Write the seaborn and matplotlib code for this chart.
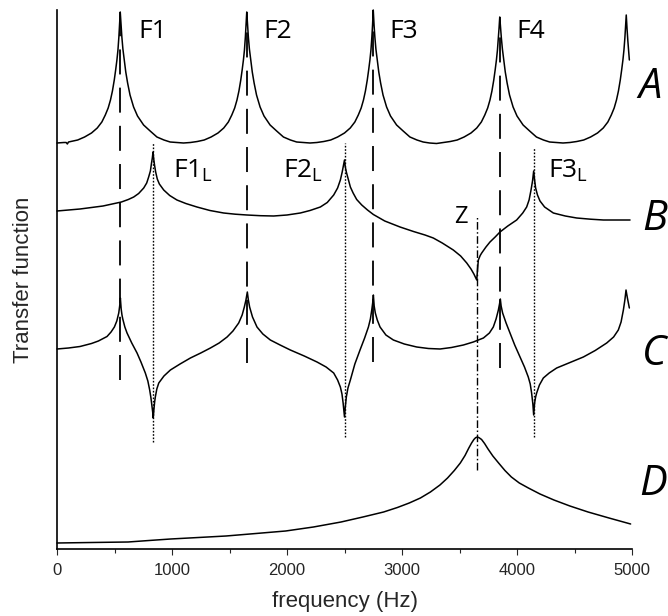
import numpy as np
import pandas as pd
import matplotlib
matplotlib.use("Agg")
import matplotlib.pyplot as plt
import seaborn as sns
from matplotlib.ticker import MultipleLocator

# --- Curves (frequency in Hz, amplitude in arbitrary stacked units) ---
freq_A = [0, 60, 80, 90, 100, 180, 240, 300, 350, 390, 420, 445, 465, 482, 498, 510, 521, 530, 538, 544,
          550, 557, 564, 573, 585, 598, 614, 635, 666, 700, 753, 810, 869, 930, 984, 1040, 1100,
          1160, 1220, 1280, 1340, 1400, 1450, 1490, 1520, 1545, 1565, 1582, 1598, 1610, 1621, 1630, 1638, 1644,
          1650, 1657, 1664, 1673, 1685, 1698, 1714, 1735, 1766, 1800, 1853, 1910, 1969, 2030, 2084, 2140, 2200,
          2260, 2320, 2380, 2440, 2500, 2550, 2590, 2620, 2645, 2665, 2682, 2698, 2710, 2721, 2730, 2738, 2744,
          2750, 2757, 2764, 2773, 2785, 2798, 2814, 2835, 2866, 2900, 2953, 3010, 3069, 3130, 3184, 3240, 3300,
          3360, 3420, 3480, 3540, 3600, 3650, 3690, 3720, 3745, 3765, 3782, 3798, 3810, 3821, 3830, 3838, 3844,
          3850, 3857, 3864, 3873, 3885, 3898, 3914, 3935, 3966, 4000, 4053, 4110, 4169, 4230, 4284, 4340, 4400,
          4460, 4520, 4580, 4640, 4700, 4750, 4790, 4820, 4845, 4865, 4882, 4898, 4910, 4921, 4930, 4938, 4944,
          4950, 4957, 4964, 4977]
amp_A = [406, 406.5, 406.5, 405, 407, 409, 412, 416, 421, 427, 434, 441, 449, 458, 469, 479, 489, 499, 512, 524,
         537, 524, 512, 500, 489, 477, 466, 454, 442, 433, 424, 418, 412, 409, 407, 406.5, 406,
         406.5, 407.5, 409, 412, 416, 421, 427, 434, 441, 449, 458, 469, 479, 489, 499, 512, 524,
         537, 524, 512, 500, 489, 477, 466, 454, 442, 433, 424, 418, 412, 409, 407, 406.5, 406,
         406.5, 407.5, 409, 412, 416, 421, 427, 434, 441, 449, 458, 469, 479, 489, 499, 512, 524,
         539, 524, 512, 500, 489, 477, 466, 454, 442, 433, 424, 418, 412, 409, 407, 406, 405.5,
         406.5, 407.5, 409, 412, 416, 421, 427, 434, 441, 449, 458, 469, 479, 489, 499, 511, 521,
         532, 521, 511, 500, 489, 477, 466, 454, 442, 433, 424, 418, 412, 409, 407, 406.5, 406,
         406.5, 407.5, 409, 412, 416, 421, 427, 434, 441, 449, 458, 469, 479, 489, 499, 511, 522,
         534, 520, 508, 489]

freq_B = [0, 100, 200, 300, 400, 500, 560, 620, 667, 710, 754, 780, 797, 812, 822, 829, 835, 841, 848, 858,
          872, 890, 928, 980, 1043, 1120, 1217, 1330, 1449, 1550, 1652, 1770, 1884, 2000, 2116, 2200, 2290,
          2350, 2406, 2440, 2464, 2480, 2490, 2500, 2507, 2516, 2530, 2551, 2575, 2606, 2650, 2700, 2751,
          2850, 2983, 3100, 3200, 3272, 3350, 3446, 3510, 3563, 3600, 3625, 3650, 3657, 3664, 3680, 3693,
          3730, 3765, 3810, 3852, 3920, 3997, 4050, 4084, 4105, 4122, 4135, 4145, 4153, 4162, 4178, 4200,
          4240, 4316, 4420, 4519, 4640, 4751, 4870, 4983]
amp_B = [338, 339, 340, 341.5, 343, 345.5, 347, 349.5, 352, 355.5, 361, 366, 372, 378, 386, 391, 397, 390, 384, 377,
         370, 365, 359, 353.5, 349, 345.5, 342, 338.5, 336, 334.8, 334, 333.3, 333, 334, 336, 338.5, 342,
         346.5, 354, 361, 369, 377, 383, 389, 382, 377, 371, 362, 356, 349.5, 344, 339, 334.5,
         328, 322, 317.5, 314, 311, 306, 299, 293, 286, 280, 275, 269, 280, 289, 293.5, 296,
         302, 307, 312, 317, 323, 329, 336, 342, 349, 359, 368, 378, 369, 361, 354, 348,
         342, 336, 333, 331, 329.8, 329, 329, 329]

freq_C = [0, 100, 200, 300, 360, 410, 435, 470, 499, 520, 537, 545, 551, 558, 565, 572, 590, 609, 650, 696,
          730, 768, 790, 806, 817, 826, 832, 837, 843, 849, 855, 868, 885, 930, 986, 1070, 1160, 1250, 1334,
          1410, 1479, 1530, 1580, 1610, 1629, 1643, 1655, 1664, 1675, 1700, 1739, 1790, 1855, 1940, 2029,
          2150, 2261, 2340, 2406, 2440, 2464, 2478, 2488, 2494, 2500, 2506, 2516, 2530, 2551, 2590, 2635,
          2675, 2708, 2725, 2737, 2745, 2751, 2758, 2768, 2785, 2809, 2860, 2925, 3020, 3128, 3230, 3331,
          3430, 3534, 3620, 3708, 3760, 3794, 3818, 3838, 3848, 3855, 3862, 3875, 3905, 3939, 3980, 4026,
          4065, 4098, 4115, 4127, 4138, 4145, 4153, 4162, 4171, 4195, 4229, 4280, 4345, 4460, 4577, 4680,
          4780, 4840, 4881, 4905, 4925, 4938, 4948, 4960, 4977]
amp_C = [200, 201, 202.5, 205.5, 208, 211, 212.5, 217, 222, 228, 236, 243, 251, 240, 234, 230, 222, 216, 206, 196,
         187, 176, 168, 159, 151, 143, 137, 131, 140, 147, 152, 160, 166, 173, 179, 185, 191, 196, 201,
         206, 212, 218, 226, 234, 242, 249, 257, 249, 242, 232, 222, 215, 209, 204, 199,
         193, 187, 182, 176, 169, 162, 155, 146, 139, 132, 141, 152, 161, 169, 185, 199,
         211, 222, 230, 239, 246, 254, 243, 236, 229, 222, 214, 209, 205, 202, 200.5, 200,
         201.5, 204, 207, 211, 216, 222, 230, 239, 245, 250, 243, 236, 226, 216, 204, 192,
         182, 172, 165, 156, 145, 134, 146, 152, 156, 164, 171, 176, 181, 186.5, 192, 198.5,
         206, 212, 219, 227, 239, 249, 259, 251, 241]

freq_D = [0, 300, 618, 800, 988, 1230, 1470, 1730, 1988, 2230, 2470, 2660, 2840, 2960, 3063, 3160, 3247,
          3330, 3396, 3455, 3507, 3548, 3581, 3605, 3625, 3640, 3655, 3670, 3692, 3718, 3748, 3790, 3840,
          3895, 3951, 4020, 4099, 4200, 4321, 4460, 4618, 4800, 4988]
amp_D = [6, 6.5, 7, 8.5, 10, 11.5, 13, 15.5, 18, 22, 27, 32, 37, 41.5, 46, 51, 57,
         64, 71, 78.5, 86, 93.5, 101, 106, 109.5, 111.3, 112, 111.3, 109.5, 105.5, 100, 93, 86,
         78.5, 72, 66, 61, 55, 49, 43, 37, 31, 25]

curve_names = ["A", "B", "C", "D"]

# marker lines: formants (dashed), lateral formants (dotted), zero (dash-dot)
formant_freq = [550, 1655, 2750, 3855]
formant_top = [537, 537, 539, 532]
formant_bottom = [169, 186, 187, 181]
formant_labels = ["F1", "F2", "F3", "F4"]

lateral_freq = [835, 2500, 4145]
lateral_top = [406, 406, 401]
lateral_bottom = [107, 112, 112]
lateral_labels = ["F1$_\\mathregular{L}$", "F2$_\\mathregular{L}$", "F3$_\\mathregular{L}$"]

zero_freq = [3650]
zero_top = [332]
zero_bottom = [79]
zero_labels = ["Z"]

# --- Build table ---
frames = []
for name, f, a in zip(curve_names, [freq_A, freq_B, freq_C, freq_D], [amp_A, amp_B, amp_C, amp_D]):
    frames.append(pd.DataFrame({"freq": f, "amp": a, "curve": name}))
df = pd.concat(frames, ignore_index=True)

# --- Plot ---
sns.set_style("ticks")
plt.rcParams["font.family"] = ["Liberation Sans", "DejaVu Sans"]
plt.rcParams["lines.scale_dashes"] = False

fig = plt.figure(figsize=(6.68, 6.16), dpi=100)
ax = fig.add_axes([57 / 668, (616 - 549) / 616, 575 / 668, (549 - 10) / 616])

for name in curve_names:
    sns.lineplot(data=df[df["curve"] == name], x="freq", y="amp", color="black",
                 linewidth=1.1, ax=ax, clip_on=False)

ax.vlines(formant_freq, formant_bottom, formant_top, colors="black", linewidth=1.3,
          linestyles=[(0, (18, 9.5))])
ax.vlines(lateral_freq, lateral_bottom, lateral_top, colors="black", linewidth=1.0,
          linestyles=[(0, (1.2, 1.2))])
ax.vlines(zero_freq, zero_bottom, zero_top, colors="black", linewidth=1.0,
          linestyles=[(0, (5.5, 1.8, 1.1, 1.8))])

lab_font = dict(family=["Open Sans", "DejaVu Sans"], color="black")
for f, lab in zip([706, 1793, 2888, 3992], formant_labels):
    ax.text(f, 511, lab, fontsize=19, ha="left", va="baseline", **lab_font)
for f, lab in zip([1011, 1967, 4270], lateral_labels):
    ax.text(f, 372, lab, fontsize=19, ha="left", va="baseline", **lab_font)
ax.text(3449, 326, zero_labels[0], fontsize=17, ha="left", va="baseline", **lab_font)

for name, f, a in zip(curve_names, [5052, 5087, 5087, 5061], [451, 319, 184, 54]):
    ax.text(f, a, name, fontsize=30, style="italic", ha="left", va="baseline", **lab_font)

ax.set_xlim(0, 5000)
ax.set_ylim(0, 539)
ax.xaxis.set_major_locator(MultipleLocator(1000))
ax.xaxis.set_minor_locator(MultipleLocator(500))
ax.tick_params(axis="x", which="major", direction="out", length=4.3, width=0.8, labelsize=12, pad=6)
ax.tick_params(axis="x", which="minor", direction="out", length=2.6, width=0.8)
ax.set_yticks([])
for side in ["left", "bottom"]:
    ax.spines[side].set_linewidth(1.2)
    ax.spines[side].set_color("black")
sns.despine(ax=ax, top=True, right=True)

ax.set_xlabel("frequency (Hz)", fontsize=16, labelpad=9)
ax.set_ylabel("Transfer function", fontsize=16)
ax.yaxis.set_label_coords(-0.04, 0.5)

fig.savefig("out.png", dpi=100)
